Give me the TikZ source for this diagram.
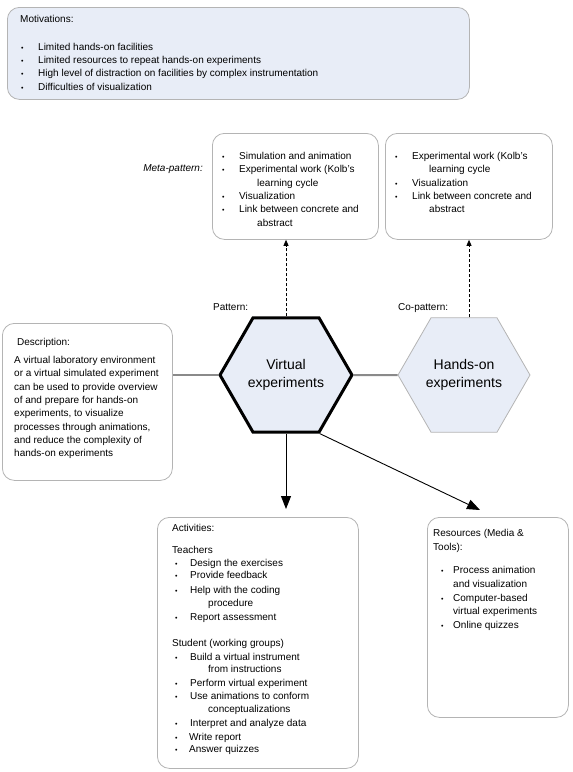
\documentclass[tikz,border=0pt]{standalone}
\usepackage{fontspec}
\setmainfont{Liberation Sans}
\usetikzlibrary{shapes.geometric,arrows.meta}
\definecolor{hexfill}{HTML}{E8EDF7}
\definecolor{boxline}{HTML}{B4B4B4}
\definecolor{connc}{HTML}{8A8A8A}
\newcommand\bitem[5]{\node[txt] (#1) at (#3,#4) {#5}; \node[bul] (#1b) at (#2,#4) {\textbullet};}
\begin{document}
\begin{tikzpicture}[x=1pt,y=-1pt,
  box/.style={draw=boxline,line width=0.8pt,rounded corners=12pt,inner sep=0pt,anchor=north west,fill=white},
  txt/.style={anchor=base west,inner sep=0pt,font=\fontsize{10}{12}\selectfont},
  bul/.style={anchor=base west,inner sep=0pt,font=\fontsize{7}{8}\selectfont},
  hex/.style={regular polygon,regular polygon sides=6,minimum size=132pt,inner sep=0pt,fill=hexfill,align=center,font=\fontsize{14}{18.3}\selectfont},
  conn/.style={draw=connc,line width=2pt},
  arr/.style={draw=black,line width=0.9pt,-{Triangle[length=13pt,width=10pt]}},
  dasharr/.style={draw=black,line width=0.8pt,dash pattern=on 3pt off 2pt,-{Triangle[length=6pt,width=5pt]}}]
\useasboundingbox (0,0) rectangle (573,772);

% Motivations
\node[box,fill=hexfill,minimum width=462pt,minimum height=92pt] (mot) at (7,7) {};
\node[txt] (motT) at (20,22.5) {Motivations:};
\bitem{m1}{21}{38}{50}{Limited hands-on facilities}
\bitem{m2}{21}{38}{63}{Limited resources to repeat hands-on experiments}
\bitem{m3}{21}{38}{76.5}{High level of distraction on facilities by complex instrumentation}
\bitem{m4}{21}{38}{90}{Difficulties of visualization}

% Meta-pattern box
\node[box,minimum width=166pt,minimum height=106pt] (meta) at (212,133) {};
\bitem{a1}{222}{239}{159.5}{Simulation and animation}
\bitem{a2}{222}{239}{172.8}{Experimental work (Kolb's}
\node[txt] (a2b) at (257,186.1) {learning cycle};
\bitem{a3}{222}{239}{199.4}{Visualization}
\bitem{a4}{222}{239}{212.7}{Link between concrete and}
\node[txt] (a4b) at (257,226) {abstract};
\node[txt,anchor=base east,font=\fontsize{10}{12}\selectfont\itshape] (metaL) at (203,171.5) {Meta-pattern:};

% Co-pattern box
\node[box,minimum width=167pt,minimum height=106pt] (co) at (385,133) {};
\bitem{c1}{395}{412}{159.5}{Experimental work (Kolb's}
\node[txt] (c1b) at (429,172.8) {learning cycle};
\bitem{c2}{395}{412}{186.1}{Visualization}
\bitem{c3}{395}{412}{199.4}{Link between concrete and}
\node[txt] (c3b) at (429,212.7) {abstract};

% labels
\node[txt] (patL) at (213,310) {Pattern:};
\node[txt] (coL) at (398,310) {Co-pattern:};

% Description
\node[box,minimum width=170pt,minimum height=157pt] (desc) at (2,323) {};
\node[txt] (descT) at (17,345) {Description:};
\node[txt] (d1) at (14,363.5) {A virtual laboratory environment};
\node[txt] (d2) at (14,376.8) {or a virtual simulated experiment};
\node[txt] (d3) at (14,390.1) {can be used to provide overview};
\node[txt] (d4) at (14,403.4) {of and prepare for hands-on};
\node[txt] (d5) at (14,416.7) {experiments, to visualize};
\node[txt] (d6) at (14,430) {processes through animations,};
\node[txt] (d7) at (14,443.3) {and reduce the complexity of};
\node[txt] (d8) at (14,456.6) {hands-on experiments};

% Hexagons
\node[hex,draw=black,line width=3pt] (vhex) at (286,375) {Virtual\\experiments};
\node[hex,draw=boxline,line width=0.8pt] (hhex) at (464,375) {Hands-on\\experiments};

% Activities
\node[box,minimum width=201pt,minimum height=251pt] (act) at (157,517) {};
\node[txt] (actT) at (172,531.5) {Activities:};
\node[txt] (teach) at (172,553.5) {Teachers};
\bitem{t1}{175}{190}{566.2}{Design the exercises}
\bitem{t2}{175}{190}{578.8}{Provide feedback}
\bitem{t3}{175}{190}{593.5}{Help with the coding}
\node[txt] (t3b) at (208,606.2) {procedure};
\bitem{t4}{175}{190}{620.2}{Report assessment}
\node[txt] (stud) at (172,646.8) {Student (working groups)};
\bitem{s1}{175}{190}{660.2}{Build a virtual instrument}
\node[txt] (s1b) at (208,672.8) {from instructions};
\bitem{s2}{175}{190}{686.8}{Perform virtual experiment}
\bitem{s3}{175}{190}{699.5}{Use animations to conform}
\node[txt] (s3b) at (208,712.8) {conceptualizations};
\bitem{s4}{175}{190}{726.8}{Interpret and analyze data}
\bitem{s5}{175}{189}{740.2}{Write report}
\bitem{s6}{175}{189}{752.8}{Answer quizzes}

% Resources
\node[box,minimum width=141pt,minimum height=200pt] (res) at (427,517) {};
\node[txt] (resT) at (433,536.5) {Resources (Media \&};
\node[txt] (resT2) at (433,550.5) {Tools):};
\bitem{r1}{441}{453}{573}{Process animation}
\node[txt] (r1b) at (453,587) {and visualization};
\bitem{r2}{441}{453}{601}{Computer-based}
\node[txt] (r2b) at (453,614.5) {virtual experiments};
\bitem{r3}{441}{453}{628.5}{Online quizzes}

% connectors
\draw[conn] (vhex.west) -- (vhex.west -| desc.east);
\draw[conn] (vhex.east) -- (hhex.west);
\draw[dasharr] (vhex.north) -- (vhex.north |- meta.south);
\coordinate (ctop) at ([xshift=5pt]hhex.north);
\draw[dasharr] (ctop) -- (ctop |- co.south);
\draw[arr,shorten >=8pt] (vhex.south) -- (vhex.south |- act.north);
\coordinate (tipR) at (480,510);
\draw[arr] (vhex.300) -- (tipR);
\end{tikzpicture}
\end{document}
